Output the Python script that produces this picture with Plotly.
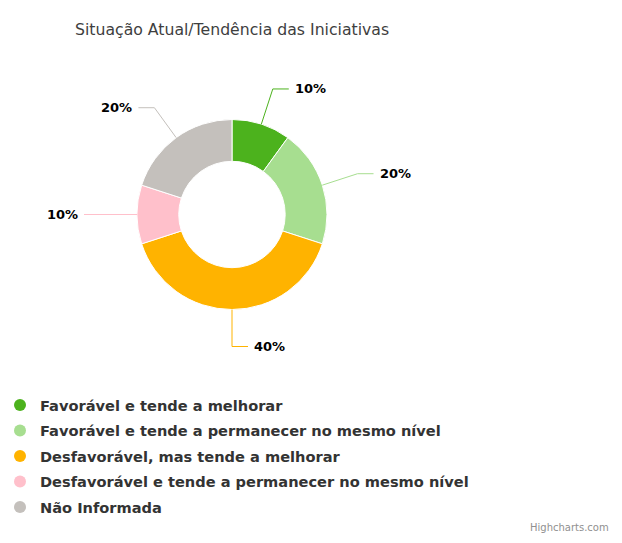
import math
import plotly.graph_objects as go

categorias = [
    "Favorável e tende a melhorar",
    "Favorável e tende a permanecer no mesmo nível",
    "Desfavorável, mas tende a melhorar",
    "Desfavorável e tende a permanecer no mesmo nível",
    "Não Informada",
]
percentuais = [10, 20, 40, 10, 20]
cores = ["#4cb21d", "#a7de90", "#ffb300", "#ffc0cb", "#c4c0bc"]

# a página tem margem de 8px no body; a figura é reduzida e deslocada para compensar
OFF = 8
W, H = 622 - OFF, 543 - 2 * OFF


def px(x):
    return (x - OFF) / W


def py(y):
    return 1 - (y - OFF) / H


cx, cy, r = 232, 214.5, 95  # centro e raio da rosca (pixels da página)

fig = go.Figure()
fig.add_trace(go.Pie(
    labels=categorias, values=percentuais, hole=0.56, sort=False,
    direction="clockwise", rotation=0, textinfo="none",
    marker=dict(colors=cores, line=dict(color="white", width=1)),
    domain=dict(x=[px(cx - r), px(cx + r)], y=[py(cy + r), py(cy - r)]),
    showlegend=False,
))

# legenda com círculos
for i, (nome, cor) in enumerate(zip(categorias, cores)):
    fig.add_trace(go.Scatter(x=[None], y=[None], mode="markers", name=nome,
                             legendgroup="g%d" % i,
                             marker=dict(symbol="circle", size=16, color=cor)))

# rótulos com linhas de ligação
total = sum(percentuais)
acum = 0
shapes, anns = [], []
for v, cor in zip(percentuais, cores):
    theta = 2 * math.pi * (acum + v / 2) / total
    acum += v
    s, c = math.sin(theta), -math.cos(theta)
    lado = 1 if s >= -1e-9 else -1
    x0, y0 = cx + r * s, cy + r * c
    x1, y1 = cx + 132 * s, cy + 132 * c
    x2 = x1 + 16 * lado
    path = "M %f,%f L %f,%f L %f,%f" % (px(x0), py(y0), px(x1), py(y1), px(x2), py(y1))
    shapes.append(dict(type="path", path=path, xref="paper", yref="paper",
                       line=dict(color=cor, width=1)))
    anns.append(dict(x=px(x2 + 4 * lado), y=py(y1), xref="paper", yref="paper",
                     text="<b>%d%%</b>" % v, showarrow=False,
                     xanchor="left" if lado > 0 else "right", yanchor="middle",
                     font=dict(size=13, color="#000000")))

anns.append(dict(x=px(611), y=0, xref="paper", yref="paper", text="Highcharts.com",
                 showarrow=False, xanchor="right", yanchor="bottom",
                 font=dict(size=10, color="#909090")))

fig.update_layout(
    width=W, height=H,
    margin=dict(l=0, r=0, t=0, b=0, autoexpand=False),
    paper_bgcolor="white", plot_bgcolor="white",
    font=dict(family="DejaVu Sans", color="#333333"),
    title=dict(text="Situação Atual/Tendência das Iniciativas", x=px(75), xanchor="left",
               y=py(30), yanchor="middle", font=dict(size=15.7, color="#3e3e3e")),
    xaxis=dict(visible=False), yaxis=dict(visible=False),
    legend=dict(x=px(0), xanchor="left", y=py(389), yanchor="top",
                font=dict(size=14.6, color="#333333", weight="bold"),
                bgcolor="rgba(0,0,0,0)", itemsizing="constant", tracegroupgap=3.5),
    shapes=shapes, annotations=anns,
)

fig.write_html("out.html")
